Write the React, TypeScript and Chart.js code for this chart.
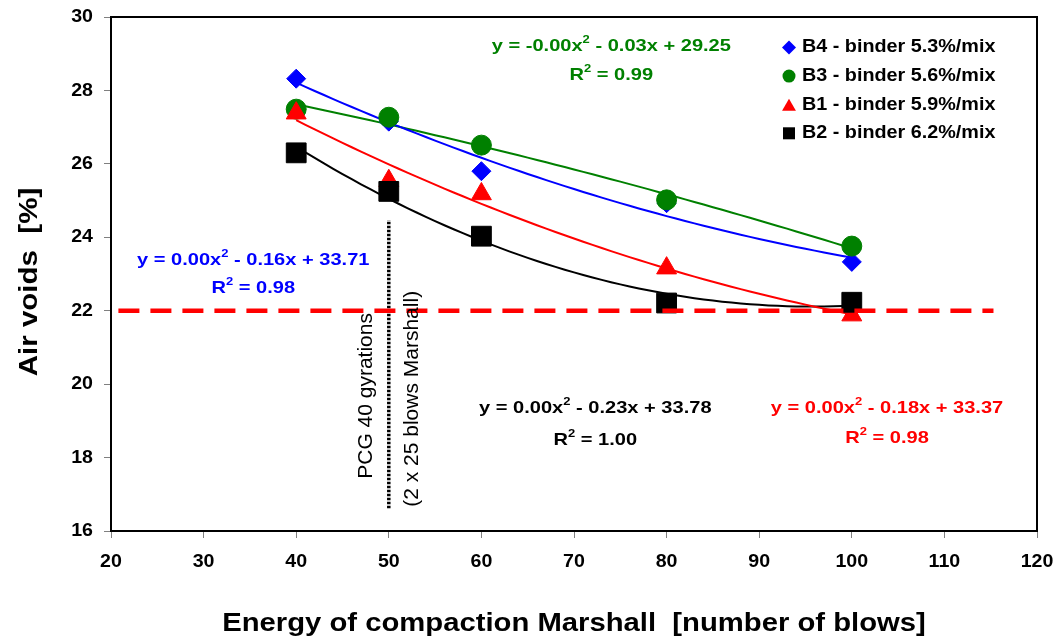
import React, { useEffect, useRef } from 'react';
import { Chart, registerables } from 'chart.js';

Chart.register(...registerables);

// ---------- data ----------
const blows = [40, 50, 60, 80, 100];
const seriesNames = [
  'B4 - binder 5.3%/mix',
  'B3 - binder 5.6%/mix',
  'B1 - binder 5.9%/mix',
  'B2 - binder 6.2%/mix',
];
const airVoidsB4 = [28.32, 27.15, 25.8, 24.93, 23.33];
const airVoidsB3 = [27.49, 27.27, 26.51, 25.02, 23.76];
const airVoidsB1 = [27.38, 25.54, 25.18, 23.16, 21.88];
const airVoidsB2 = [26.3, 25.25, 24.03, 22.21, 22.23];
const equationTexts = [
  'y = 0.00x^2 - 0.16x + 33.71',
  'y = -0.00x^2 - 0.03x + 29.25',
  'y = 0.00x^2 - 0.18x + 33.37',
  'y = 0.00x^2 - 0.23x + 33.78',
];
const r2Texts = ['R^2 = 0.98', 'R^2 = 0.99', 'R^2 = 0.98', 'R^2 = 1.00'];
const xTickValues = [20, 30, 40, 50, 60, 70, 80, 90, 100, 110, 120];
const yTickValues = [16, 18, 20, 22, 24, 26, 28, 30];
const targetVoids = 22;
const targetLineRange = [20.8, 115.3];
const pcgBlows = 50;
const pcgLineRange = [16.62, 24.47];
const pcgLabel1 = 'PCG 40 gyrations';
const pcgLabel2 = '(2 x 25 blows Marshall)';
const xTitle = 'Energy of compaction Marshall  [number of blows]';
const yTitle = 'Air voids  [%]';

// ---------- styles ----------
const seriesValues = [airVoidsB4, airVoidsB3, airVoidsB1, airVoidsB2];
const colors = ['#0000ff', '#008000', '#ff0000', '#000000'];
const pointStyles = ['rectRot', 'circle', 'triangle', 'rect'];
const pointRadii = [9.5, 10, 11.5, 14];
const legendRadii = [7, 6.5, 8, 8.5];
// equation anchors (data coordinates) and gap to R² line (px)
const eqAnchors = [
  { x: 35.36, y: 23.38, gap: 28 },
  { x: 74.03, y: 29.21, gap: 29 },
  { x: 103.8, y: 19.35, gap: 30 },
  { x: 72.3, y: 19.35, gap: 32 },
];
const FONT = '"Liberation Sans", Arial, Helvetica, sans-serif';

function quadFit(xs: number[], ys: number[]) {
  let s0 = 0, s1 = 0, s2 = 0, s3 = 0, s4 = 0, t0 = 0, t1 = 0, t2 = 0;
  for (let i = 0; i < xs.length; i++) {
    const x = xs[i], y = ys[i];
    s0 += 1; s1 += x; s2 += x * x; s3 += x * x * x; s4 += x * x * x * x;
    t0 += y; t1 += x * y; t2 += x * x * y;
  }
  const M = [
    [s0, s1, s2, t0],
    [s1, s2, s3, t1],
    [s2, s3, s4, t2],
  ];
  for (let c = 0; c < 3; c++) {
    for (let r = c + 1; r < 3; r++) {
      const f = M[r][c] / M[c][c];
      for (let k = c; k < 4; k++) M[r][k] -= f * M[c][k];
    }
  }
  const sol = [0, 0, 0];
  for (let r = 2; r >= 0; r--) {
    let v = M[r][3];
    for (let k = r + 1; k < 3; k++) v -= M[r][k] * sol[k];
    sol[r] = v / M[r][r];
  }
  return sol; // a + b x + c x^2
}

function trendPoints(xs: number[], ys: number[]) {
  const [a, b, c] = quadFit(xs, ys);
  const pts: { x: number; y: number }[] = [];
  const x0 = Math.min(...xs), x1 = Math.max(...xs);
  for (let x = x0; x <= x1 + 1e-9; x += 1) pts.push({ x, y: a + b * x + c * x * x });
  return pts;
}

function drawRich(
  ctx: CanvasRenderingContext2D,
  text: string,
  x: number,
  y: number,
  size: number,
  sx: number,
  color: string,
  bold = true,
  align: 'center' | 'left' | 'right' = 'center',
  rotate = 0
) {
  const parts = text.split('^2');
  const segs: { t: string; sup: boolean }[] = [];
  parts.forEach((p, i) => {
    if (p) segs.push({ t: p, sup: false });
    if (i < parts.length - 1) segs.push({ t: '2', sup: true });
  });
  const w = bold ? 'bold ' : '';
  const mainFont = `${w}${size}px ${FONT}`;
  const supFont = `${w}${Math.round(size * 0.62)}px ${FONT}`;
  ctx.save();
  let total = 0;
  const widths = segs.map((s) => {
    ctx.font = s.sup ? supFont : mainFont;
    const m = ctx.measureText(s.t).width;
    total += m;
    return m;
  });
  ctx.translate(x, y);
  if (rotate) ctx.rotate(rotate);
  ctx.scale(sx, 1);
  let cx = align === 'center' ? -total / 2 : align === 'right' ? -total : 0;
  ctx.fillStyle = color;
  ctx.textAlign = 'left';
  ctx.textBaseline = 'middle';
  segs.forEach((s, i) => {
    ctx.font = s.sup ? supFont : mainFont;
    ctx.fillText(s.t, cx, s.sup ? -size * 0.36 : 0);
    cx += widths[i];
  });
  ctx.restore();
}

function drawMarker(ctx: CanvasRenderingContext2D, style: string, x: number, y: number, r: number, color: string) {
  ctx.save();
  ctx.fillStyle = color;
  ctx.beginPath();
  if (style === 'circle') {
    ctx.arc(x, y, r, 0, Math.PI * 2);
  } else if (style === 'rectRot') {
    ctx.moveTo(x, y - r);
    ctx.lineTo(x + r, y);
    ctx.lineTo(x, y + r);
    ctx.lineTo(x - r, y);
    ctx.closePath();
  } else if (style === 'triangle') {
    const h = r * 1.5;
    const half = r * 0.866;
    ctx.moveTo(x, y - h / 2);
    ctx.lineTo(x + half, y + h / 2);
    ctx.lineTo(x - half, y + h / 2);
    ctx.closePath();
  } else {
    const s = r * 0.707;
    ctx.rect(x - s, y - s, 2 * s, 2 * s);
  }
  ctx.fill();
  ctx.restore();
}

const decorPlugin = {
  id: 'decor',
  beforeDatasetsDraw(chart: any) {
    const { ctx, chartArea } = chart;
    ctx.save();
    ctx.strokeStyle = '#000';
    ctx.lineWidth = 2;
    ctx.strokeRect(chartArea.left, chartArea.top, chartArea.right - chartArea.left, chartArea.bottom - chartArea.top);
    ctx.restore();
  },
  afterDraw(chart: any) {
    const { ctx, chartArea, scales } = chart;
    const xs = scales.x, ys = scales.y;
    // tick labels
    xTickValues.forEach((v) => {
      drawRich(ctx, String(v), xs.getPixelForValue(v), chartArea.bottom + 31, 18.5, 1.06, '#000');
    });
    yTickValues.forEach((v) => {
      drawRich(ctx, String(v), chartArea.left - 18, ys.getPixelForValue(v), 18.5, 1.06, '#000', true, 'right');
    });
    // axis titles
    drawRich(ctx, xTitle, (chartArea.left + chartArea.right) / 2, 624, 25, 1.17, '#000');
    drawRich(ctx, yTitle, 30, 282, 25, 1.18, '#000', true, 'center', -Math.PI / 2);
    // equations
    eqAnchors.forEach((a, i) => {
      const px = xs.getPixelForValue(a.x);
      const py = ys.getPixelForValue(a.y);
      drawRich(ctx, equationTexts[i], px, py, 17, 1.18, colors[i]);
      drawRich(ctx, r2Texts[i], px, py + a.gap, 17, 1.18, colors[i]);
    });
    // vertical PCG labels
    drawRich(ctx, pcgLabel1, xs.getPixelForValue(47.57), ys.getPixelForValue(19.68), 21, 1, '#000', false, 'center', -Math.PI / 2);
    drawRich(ctx, pcgLabel2, xs.getPixelForValue(52.52), ys.getPixelForValue(19.6), 21, 1, '#000', false, 'center', -Math.PI / 2);
    // legend
    const mx = chartArea.right - 248;
    const tx = chartArea.right - 235;
    seriesNames.forEach((name, i) => {
      const y = chartArea.top + 30.5 + i * 28.6;
      drawMarker(ctx, pointStyles[i], mx, y, legendRadii[i], colors[i]);
      drawRich(ctx, name, tx, y, 17.5, 1.13, '#000', true, 'left');
    });
  },
};

export default function App() {
  const canvasRef = useRef<HTMLCanvasElement | null>(null);

  useEffect(() => {
    const canvas = canvasRef.current;
    if (!canvas) return;

    const datasets: any[] = [];
    seriesValues.forEach((vals, i) => {
      datasets.push({
        type: 'scatter',
        label: seriesNames[i],
        data: blows.map((b, j) => ({ x: b, y: vals[j] })),
        pointStyle: pointStyles[i],
        pointRadius: pointRadii[i],
        backgroundColor: colors[i],
        borderColor: colors[i],
        borderWidth: 1,
        showLine: false,
        order: 3 - i,
      });
    });
    seriesValues.forEach((vals, i) => {
      datasets.push({
        type: 'line',
        label: seriesNames[i] + ' trend',
        data: trendPoints(blows, vals),
        borderColor: colors[i],
        borderWidth: 2,
        pointRadius: 0,
        fill: false,
        tension: 0,
        order: 10,
      });
    });
    datasets.push({
      type: 'line',
      label: 'target',
      data: targetLineRange.map((x) => ({ x, y: targetVoids })),
      borderColor: '#ff0000',
      borderWidth: 4.5,
      borderDash: [21, 11],
      pointRadius: 0,
      fill: false,
      order: -1,
    });
    datasets.push({
      type: 'line',
      label: 'pcg',
      data: pcgLineRange.map((y) => ({ x: pcgBlows, y })),
      borderColor: '#000',
      borderWidth: 3.5,
      borderDash: [2.5, 1.5],
      pointRadius: 0,
      fill: false,
      order: -1,
    });

    const chart = new Chart(canvas, {
      type: 'scatter',
      data: { datasets },
      options: {
        animation: false,
        responsive: false,
        devicePixelRatio: 1,
        layout: { padding: { top: 17, right: 22, left: 0, bottom: 0 } },
        plugins: { legend: { display: false }, tooltip: { enabled: false } },
        scales: {
          x: {
            type: 'linear',
            min: 20,
            max: 120,
            ticks: { stepSize: 10, display: false },
            grid: { drawOnChartArea: false, drawTicks: true, tickLength: 7, color: '#808080', lineWidth: 1 },
            border: { color: '#000', width: 2 },
            afterFit: (s: any) => { s.height = 109; },
          },
          y: {
            type: 'linear',
            min: 16,
            max: 30,
            ticks: { stepSize: 2, display: false },
            grid: { drawOnChartArea: false, drawTicks: true, tickLength: 7, color: '#808080', lineWidth: 1 },
            border: { color: '#000', width: 2 },
            afterFit: (s: any) => { s.width = 111; },
          },
        },
      } as any,
      plugins: [decorPlugin],
    });
    return () => chart.destroy();
  }, []);

  return (
    <div style={{ position: 'absolute', left: 0, top: 0, width: 1059, height: 640, background: '#fff' }}>
      <canvas ref={canvasRef} width={1059} height={640} />
    </div>
  );
}
